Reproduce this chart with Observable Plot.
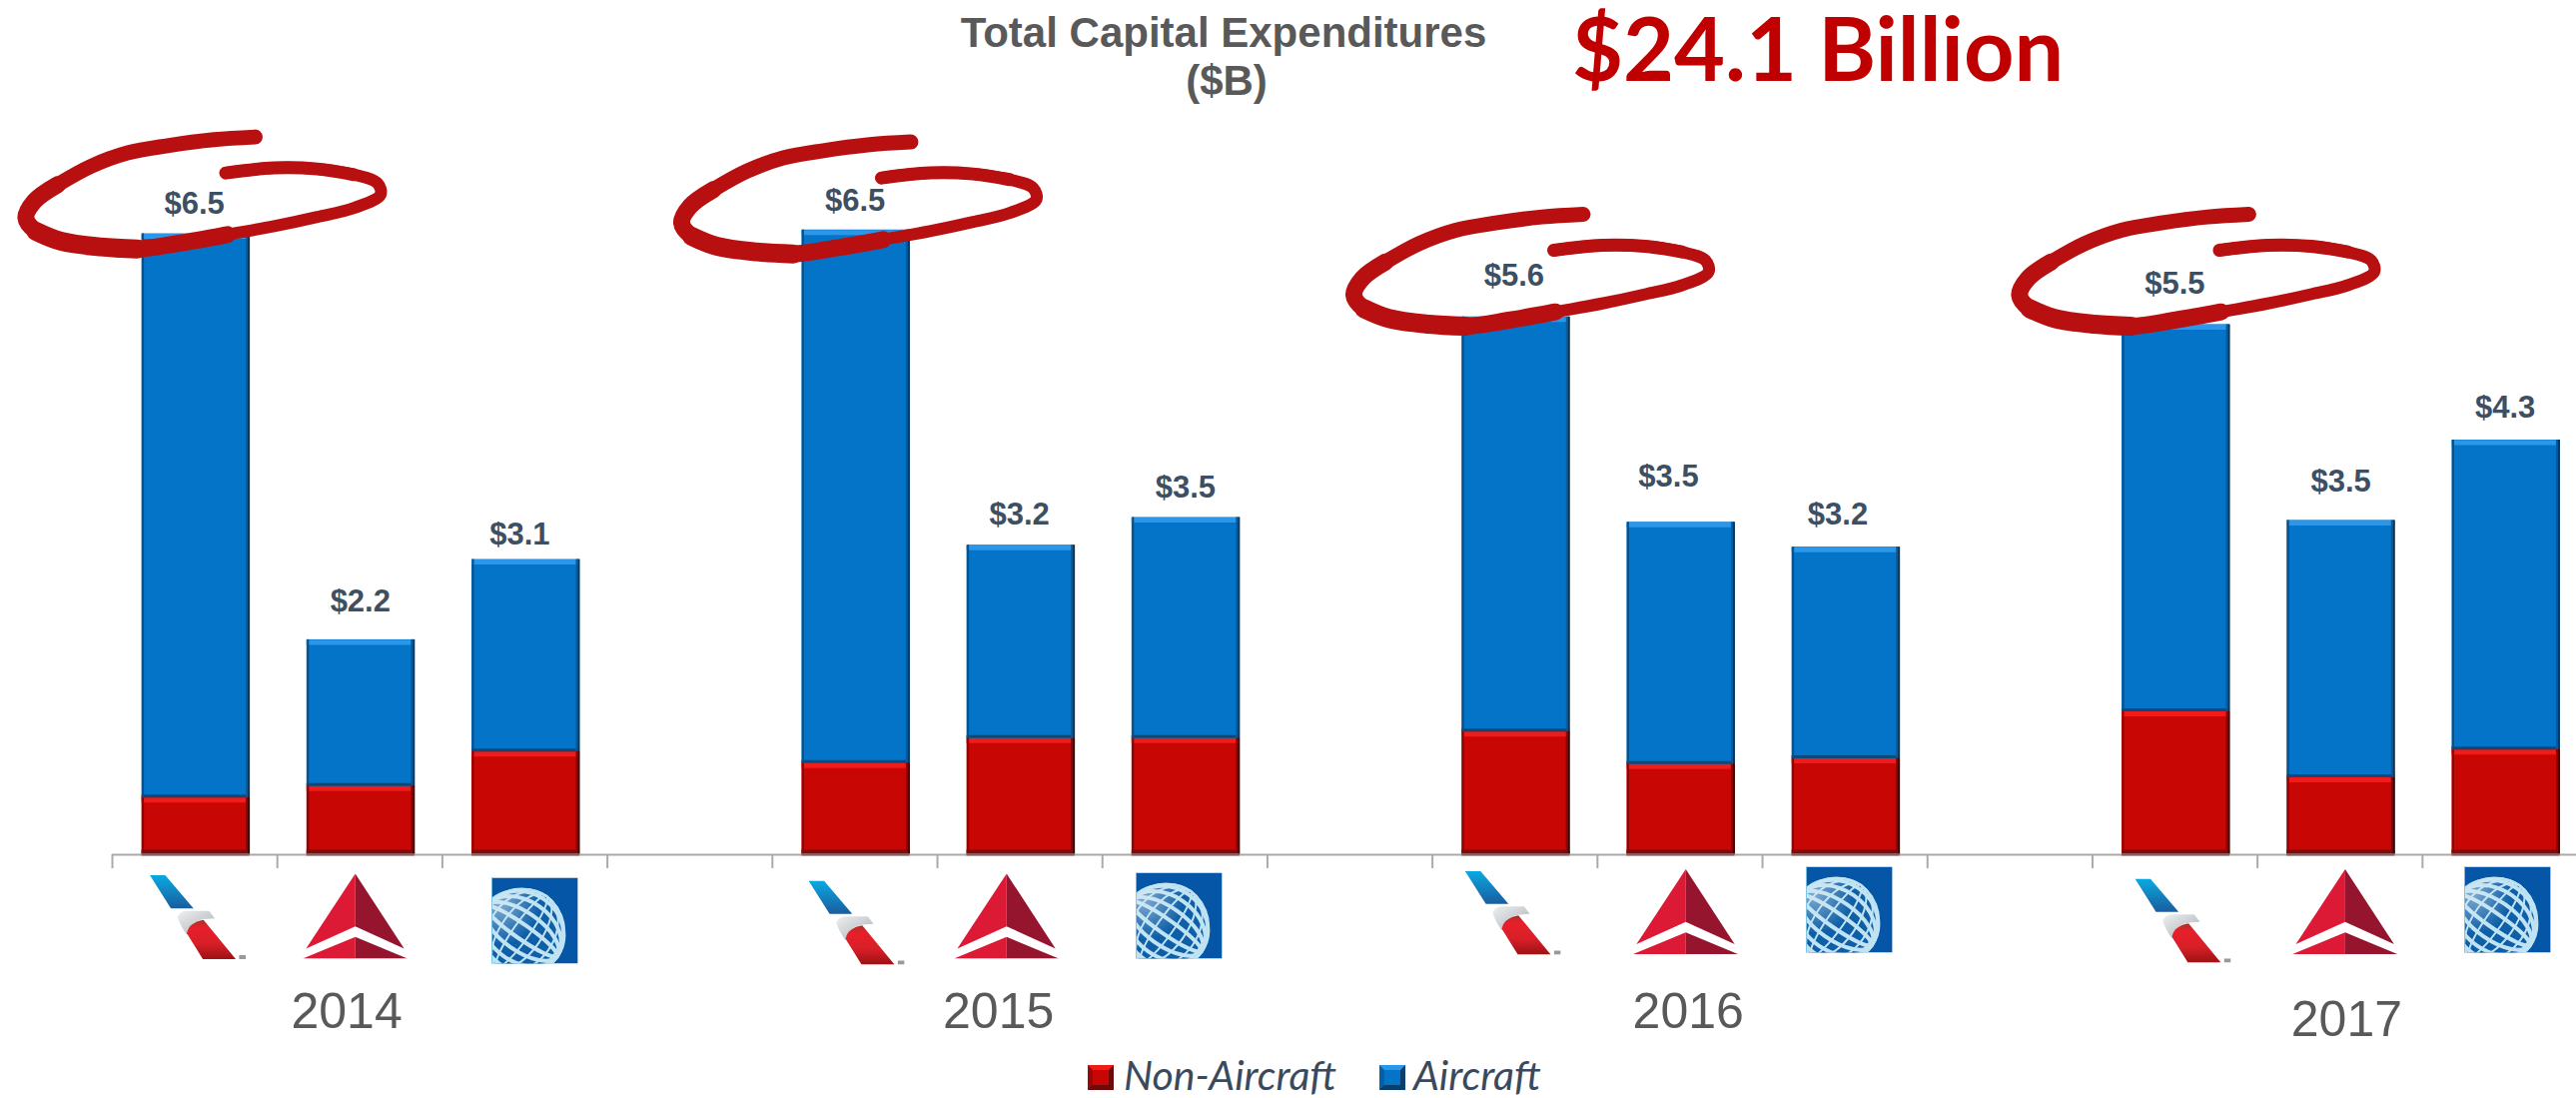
<!DOCTYPE html>
<html>
<head>
<meta charset="utf-8">
<script src="https://cdn.jsdelivr.net/npm/d3@7"></script>
<script src="https://cdn.jsdelivr.net/npm/@observablehq/plot@0.6"></script>
<style>
  html, body { margin: 0; padding: 0; background: #fff; }
  #page { position: relative; width: 2579px; height: 1099px; }
  .title { position: absolute; left: 825px; width: 800px; text-align: center; white-space: nowrap;
    font: bold 42px/48px "Liberation Sans", Arial, sans-serif; color: #595959; }
  #headline { position: absolute; left: 1520px; top: 2px; width: 600px; text-align: center;
    font: bold 88px/90px Lato, sans-serif; color: #c00000; white-space: nowrap; }
  #legend { position: absolute; top: 1053px; left: 0; height: 46px; width: 100%;
    font: italic 41px/46px Lato, sans-serif; color: #3a4a5c; }
  .key { position: absolute; top: 13px; width: 16px; height: 15px; border: 5px solid; }
  .key.red { background: #c80604; border-color: #ee1b1b #6e0a0a #6e0a0a #9a0808; }
  .key.blue { background: #0474c9; border-color: #2b97ea #0a3f6d #0a3f6d #0560a8; }
  .lbl { position: absolute; top: 0; white-space: nowrap; }
</style>
</head>
<body>
<div id="page">
  <div id="chart"></div>
  <div class="title" style="top:9px">Total Capital Expenditures</div>
  <div class="title" style="top:57px;left:828px">($B)</div>
  <div id="headline">$24.1 Billion</div>
  <div id="legend">
    <span class="key red" style="left:1089px"></span><span class="lbl" style="left:1125px">Non-Aircraft</span>
    <span class="key blue" style="left:1381px"></span><span class="lbl" style="left:1415px">Aircraft</span>
  </div>
</div>
<script>
// ---- chart data ($B) ----
const years = ["2014", "2015", "2016", "2017"];
const carriers = ["American", "Delta", "United"];
const nonAircraft = [0.60, 0.72, 1.08, 0.96, 1.22, 1.22, 1.29, 0.95, 1.01, 1.50, 0.81, 1.10];
const aircraft    = [5.90, 1.53, 2.01, 5.58, 2.02, 2.31, 4.34, 2.53, 2.21, 4.05, 2.69, 3.24];
const totalLabels = ["$6.5", "$2.2", "$3.1", "$6.5", "$3.2", "$3.5", "$5.6", "$3.5", "$3.2", "$5.5", "$3.5", "$4.3"];

// label anchors, in slot / $B units
const labelSlot  = [0.497, 1.503, 2.469, 4.501, 5.497, 6.503, 8.495, 9.431, 10.457, 12.499, 13.505, 14.501];
const labelLevel = [6.816, 2.651, 3.356, 6.850, 3.563, 3.838, 6.058, 3.959, 3.563, 5.972, 3.907, 4.682];
const yearSlot  = [1.42, 5.37, 9.55, 13.54];
const yearLevel = [-1.65, -1.65, -1.65, -1.73];

// logo anchors
const logoSlot  = [0.518, 1.471, 2.558, 4.510, 5.418, 6.462, 8.487, 9.534, 10.524, 12.548, 13.530, 14.513];
const logoLevel = [-0.654, -0.643, -0.690, -0.711, -0.643, -0.638, -0.607, -0.596, -0.575, -0.690, -0.596, -0.575];

// hand-drawn circle round each year's largest figure (slots / $B, relative to its anchor)
const circleSlot  = [-0.675, 3.299, 7.373, 11.407];
const circleLevel = [7.765, 7.713, 6.956, 6.956];
const strokeDx = [1.54, 1.291, 1.009, 0.767, 0.545, 0.343, 0.202, 0.151, 0.212, 0.363, 0.605, 0.827, 1.090, 1.372, 1.655, 1.917, 2.139, 2.300, 2.280, 2.139, 1.917, 1.655, 1.362];
const strokeDy = [-0.251, -0.279, -0.342, -0.418, -0.558, -0.750, -0.924, -1.098, -1.238, -1.342, -1.402, -1.423, -1.360, -1.273, -1.185, -1.088, -0.994, -0.854, -0.732, -0.645, -0.586, -0.575, -0.628];

// ---- tables built from the arrays ----
const BAR = 0.654, CENTER = 0.506;
const bars = nonAircraft.map((n, i) => {
  const g = Math.floor(i / 3), s = g * 4 + (i % 3);
  return {i, year: years[g], carrier: carriers[i % 3], non: n, total: n + aircraft[i],
          x1: s + CENTER - BAR / 2, x2: s + CENTER + BAR / 2};
});
const segments = bars.flatMap(b => [
  {...b, kind: "Non-Aircraft", y1: 0, y2: b.non},
  {...b, kind: "Aircraft", y1: b.non, y2: b.total}
]);
const reds = segments.filter(d => d.kind === "Non-Aircraft");
const blues = segments.filter(d => d.kind === "Aircraft");

const circlePts = circleSlot.flatMap((cx, c) =>
  strokeDx.map((dx, j) => ({c, j, x: cx + dx, y: circleLevel[c] + strokeDy[j]})));

const uri = s => "data:image/svg+xml," + encodeURIComponent(s);
const aaLogo = uri(`<svg xmlns="http://www.w3.org/2000/svg" viewBox="87 63 288 252" preserveAspectRatio="none">
<defs><linearGradient id="b" x1="0" y1="0" x2="0" y2="1"><stop offset="0" stop-color="#0aaae2"/><stop offset="1" stop-color="#1a5c9e"/></linearGradient>
<linearGradient id="s" x1="0" y1="0" x2="1" y2="1"><stop offset="0" stop-color="#eef0f1"/><stop offset="1" stop-color="#aab0b4"/></linearGradient>
<linearGradient id="r" x1="0" y1="0" x2="0" y2="1"><stop offset="0" stop-color="#a83028"/><stop offset=".2" stop-color="#e81f2b"/><stop offset=".6" stop-color="#d81f28"/><stop offset="1" stop-color="#9c1214"/></linearGradient></defs>
<polygon points="87,63 133,63 218,163 150,163" fill="url(#b)"/>
<path d="M170,188 Q178,172 195,170 L265,170 L282,193 L250,195 Q215,200 205,225 L198,242 Q178,215 170,188Z" fill="url(#s)"/>
<path d="M198,238 Q203,205 248,197 L345,315 L246,315Z" fill="url(#r)"/>
<rect x="355" y="303" width="20" height="12" fill="#999"/></svg>`);
const deltaLogo = uri(`<svg xmlns="http://www.w3.org/2000/svg" viewBox="525 42 313 255" preserveAspectRatio="none">
<polygon points="682,42 682,200 535,267" fill="#dc1a36"/>
<polygon points="682,42 682,200 828,267" fill="#96152e"/>
<polygon points="682,232 682,297 525,297" fill="#dc1a36"/>
<polygon points="682,232 682,297 838,297" fill="#96152e"/></svg>`);
const unitedLogo = uri(`<svg xmlns="http://www.w3.org/2000/svg" viewBox="1068 38 261 259" preserveAspectRatio="none">
<defs><radialGradient id="g" cx=".25" cy=".2" r=".45"><stop offset="0" stop-color="#d8e8f2" stop-opacity=".55"/><stop offset="1" stop-color="#d8e8f2" stop-opacity="0"/></radialGradient></defs>
<rect x="1068" y="38" width="261" height="259" fill="#0556a6"/>
<circle cx="1160" cy="200" r="130" fill="#0f5fa8"/>
<g fill="none" stroke="#bfe3f3">
<g stroke-width="6">
<ellipse cx="1160" cy="200" rx="25" ry="130" transform="rotate(35 1160 200)"/>
<ellipse cx="1160" cy="200" rx="62" ry="130" transform="rotate(35 1160 200)"/>
<ellipse cx="1160" cy="200" rx="98" ry="130" transform="rotate(35 1160 200)"/>
<ellipse cx="1160" cy="200" rx="120" ry="130" transform="rotate(35 1160 200)"/>
</g>
<g stroke-width="12">
<ellipse cx="1160" cy="200" rx="130" ry="22" transform="rotate(35 1160 200)"/>
<ellipse cx="1160" cy="200" rx="130" ry="58" transform="rotate(35 1160 200)"/>
<ellipse cx="1160" cy="200" rx="130" ry="92" transform="rotate(35 1160 200)"/>
<ellipse cx="1160" cy="200" rx="130" ry="118" transform="rotate(35 1160 200)"/>
</g>
<circle cx="1160" cy="200" r="129" stroke-width="5"/>
</g>
<circle cx="1160" cy="200" r="130" fill="url(#g)"/>
<rect x="1068" y="38" width="4" height="259" fill="#7cc4e6"/></svg>`);
const logoSrc = [aaLogo, deltaLogo, unitedLogo];
const logoW = [96, 105, 87], logoH = [84, 85, 86];
const logos = logoSlot.map((x, i) => ({x, y: logoLevel[i], src: logoSrc[i % 3], w: logoW[i % 3], h: logoH[i % 3]}));

const labels = totalLabels.map((t, i) => ({t, x: labelSlot[i], y: labelLevel[i]}));
const yearMarks = years.map((t, i) => ({t, x: yearSlot[i], y: yearLevel[i]}));

const edge = (data, color, w, dx, key) => Plot.ruleX(data, {x: key, y1: "y1", y2: "y2", stroke: color, strokeWidth: w, dx});
// the pen stroke thickens and thins along its length
const arc = (from, to, w) => Plot.line(circlePts.filter(d => d.j >= from && d.j <= to),
  {x: "x", y: "y", z: "c", curve: "catmull-rom", stroke: "#b81010", strokeWidth: w});

const plot = Plot.plot({
  width: 2579, height: 1050,
  marginLeft: 112, marginRight: 0, marginTop: 0, marginBottom: 195,
  style: {background: "transparent", overflow: "visible"},
  x: {type: "linear", domain: [0, 14.933], axis: null},
  y: {domain: [0, 8.943], axis: null},
  marks: [
    // bars
    Plot.rect(reds, {x1: "x1", x2: "x2", y1: "y1", y2: "y2", fill: "#c80604"}),
    Plot.rect(blues, {x1: "x1", x2: "x2", y1: "y1", y2: "y2", fill: "#0474c9"}),
    // bevels
    Plot.ruleY(reds, {x1: "x1", x2: "x2", y: "y2", stroke: "#f01c1c", strokeWidth: 5, dy: 2.5}),
    Plot.ruleY(blues, {x1: "x1", x2: "x2", y: "y2", stroke: "#2b97ea", strokeWidth: 5, dy: 2.5}),
    Plot.ruleY(reds, {x1: "x1", x2: "x2", y: "y1", stroke: "#7d0c0c", strokeWidth: 5, dy: -2.5}),
    Plot.ruleY(blues, {x1: "x1", x2: "x2", y: "y1", stroke: "#0a4a7a", strokeWidth: 3, dy: -1.5}),
    edge(reds, "#8a0606", 2, -3, "x2"), edge(reds, "#3a0505", 2, -1, "x2"),
    edge(blues, "#0a5a9a", 2, -3, "x2"), edge(blues, "#08365c", 2, -1, "x2"),
    edge(reds, "#8a0606", 2, 1, "x1"),
    edge(blues, "#0a4f86", 2, 1, "x1"),
    // axis
    Plot.ruleY([0], {x1: 0, x2: 14.933, stroke: "#aaaaaa", strokeWidth: 2}),
    Plot.axisX({ticks: d3.range(0, 15), tickSize: 14, tickFormat: () => "", stroke: "#aaaaaa", strokeWidth: 2, anchor: "bottom"}),
    Plot.ruleY(reds, {x1: "x1", x2: "x2", y: "y1", stroke: "#8c5a5a", strokeWidth: 2}),
    // logos
    Plot.image(logos, {x: "x", y: "y", src: "src", width: "w", height: "h", preserveAspectRatio: "none"}),
    // hand-drawn circles
    arc(0, 22, 12), arc(0, 5, 15), arc(5, 13, 17), arc(8, 11, 19), arc(19, 22, 13),
    // total labels
    Plot.text(labels, {x: "x", y: "y", text: "t", fill: "#3c4f63", fontSize: 31, fontWeight: "bold", fontFamily: "Liberation Sans, Arial, sans-serif", lineAnchor: "middle"}),
    // year labels
    Plot.text(yearMarks, {x: "x", y: "y", text: "t", fill: "#595959", fontSize: 50, fontFamily: "Liberation Sans, Arial, sans-serif", lineAnchor: "middle"})
  ]
});
document.getElementById("chart").appendChild(plot);
</script>
</body>
</html>
